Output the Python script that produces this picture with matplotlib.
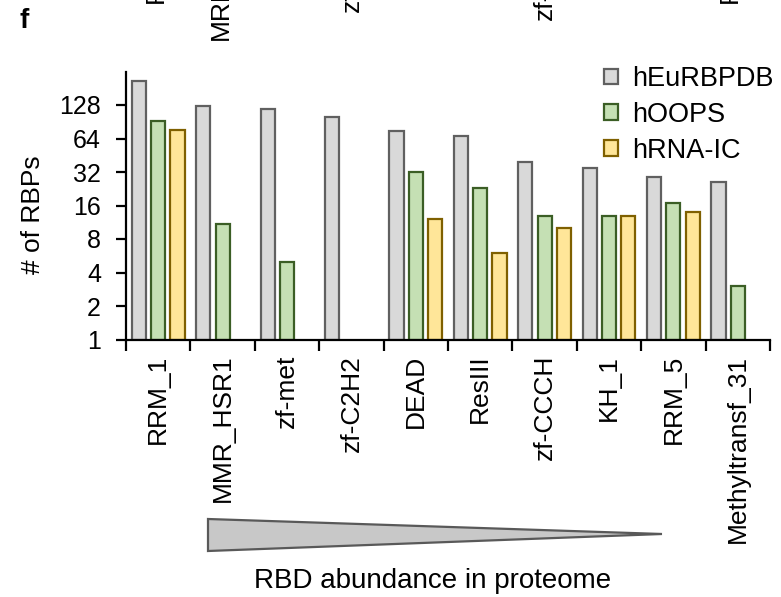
import numpy as np
import matplotlib
matplotlib.use("Agg")
import matplotlib.pyplot as plt
from matplotlib.patches import Polygon, Patch

plt.rcParams['font.family'] = ['Liberation Sans', 'DejaVu Sans']

domains = ["RRM_1", "MMR_HSR1", "zf-met", "zf-C2H2", "DEAD", "ResIII",
           "zf-CCCH", "KH_1", "RRM_5", "Methyltransf_31"]
heurbpdb = [210, 125, 119, 100, 75, 68, 39, 35, 29, 26]
hoops = [92, 11, 5, np.nan, 32, 23, 13, 13, 17, 3]
hrna_ic = [77, np.nan, np.nan, np.nan, 12, 6, 10, 13, 14, np.nan]
series_names = ["hEuRBPDB", "hOOPS", "hRNA-IC"]
y_ticks = [1, 2, 4, 8, 16, 32, 64, 128]

faces = ["#D9D9D9", "#C5E0B4", "#FFE699"]
edges = ["#606060", "#3B5E25", "#7F6000"]

fs = 18
W, H = 781, 597
fig = plt.figure(figsize=(W / 100, H / 100), dpi=100)
ax = fig.add_axes([126 / W, 1 - 339.5 / H, 644 / W, 268 / H])

x = np.arange(len(domains))
width = 0.22
offsets = [-0.3, 0.0, 0.3]
for vals, off, fc, ec in zip([heurbpdb, hoops, hrna_ic], offsets, faces, edges):
    vals = np.array(vals, dtype=float)
    ok = ~np.isnan(vals)
    ax.bar(x[ok] + off, vals[ok] - 1, bottom=1, width=width,
           facecolor=fc, edgecolor=ec, linewidth=1.6, zorder=2)

ax.set_yscale("log", base=2)
ax.set_ylim(1, 256)
ax.set_yticks(y_ticks)
ax.set_yticklabels([str(t) for t in y_ticks], fontsize=fs)
ax.yaxis.set_minor_locator(matplotlib.ticker.NullLocator())
ax.set_xlim(-0.5, len(domains) - 0.5)
ax.set_xticks(np.arange(-0.5, len(domains), 1))
ax.set_xticklabels([])
ax.set_xticks(x, minor=True)
ax.set_xticklabels(domains, minor=True, rotation=90, fontsize=19)
ax.tick_params(axis="x", which="major", length=8, width=1.6, direction="out")
ax.tick_params(axis="x", which="minor", length=0, pad=11)
ax.tick_params(axis="y", length=7, width=1.6, pad=11)

for s in ["top", "right"]:
    ax.spines[s].set_visible(False)
for s in ["left", "bottom"]:
    ax.spines[s].set_linewidth(1.6)

ax.set_ylabel("# of RBPs", fontsize=19)
ax.yaxis.set_label_coords(-0.125, 0.465)

handles = [Patch(facecolor=fc, edgecolor=ec, linewidth=1.6) for fc, ec in zip(faces, edges)]
fig.legend(handles, series_names, loc="upper left", bbox_to_anchor=(604 / W, 1 - 66 / H),
           bbox_transform=fig.transFigure, frameon=False, fontsize=19.5,
           handlelength=0.5, handleheight=0.5, handletextpad=0.55,
           labelspacing=0.36, borderpad=0, borderaxespad=0)

# abundance wedge under the axis
tri = Polygon([(208 / W, 1 - 519 / H), (208 / W, 1 - 551 / H), (662 / W, 1 - 534 / H)],
              closed=True, transform=fig.transFigure, facecolor="#C8C8C8",
              edgecolor="#595959", linewidth=1.6)
fig.add_artist(tri)
fig.text(433 / W, 1 - 581 / H, "RBD abundance in proteome", ha="center", va="center", fontsize=20)

# panel letter and clipped labels of the panel above
fig.text(20 / W, 1 - 28 / H, "f", fontsize=fs + 2, fontweight="bold", ha="left", va="baseline")
for xp, yb, lab in [(156, 3, "RRM"), (221, 40, "MRP"), (352, 12, "zf"), (545, 20, "zf-C"), (730, 3, "RRM")]:
    fig.text(xp / W, 1 - yb / H, lab, rotation=90, ha="center", va="bottom", fontsize=19)

fig.savefig("out.png", dpi=100)
